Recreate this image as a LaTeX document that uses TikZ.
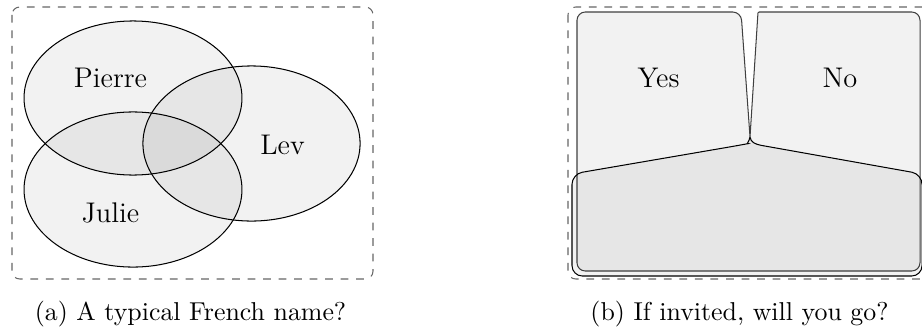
\documentclass[tikz,border=0pt]{standalone}
\usetikzlibrary{shapes.geometric}
\tikzset{
  frame/.style={draw=black!60, dashed, line width=0.4pt, rounded corners=3pt},
  venn/.style={ellipse, draw=black, line width=0.4pt, fill=black, fill opacity=0.05, inner sep=0pt},
  region/.style={draw=black, line width=0.4pt, fill=black, fill opacity=0.05},
  lbl/.style={inner sep=0pt, anchor=base, font=\fontsize{11}{13}\selectfont},
  captext/.style={inner sep=0pt, anchor=base, font=\normalsize}
}
\begin{document}
\begin{tikzpicture}[x=0.3868pt, y=-0.3868pt]
\clip (0,0) rectangle (922,327);
% ---------- (a) ----------
\draw[frame] (12,7) rectangle (373,279);
\node[venn, minimum width=84.3pt, minimum height=59.6pt] (pierre) at (133,98) {};
\node[venn, minimum width=84.3pt, minimum height=60pt] (julie) at (133,189.5) {};
\node[venn, minimum width=84pt, minimum height=60pt] (lev) at (251.5,143.5) {};
\node[lbl] (tpierre) at (110.5,87) {Pierre};
\node[lbl] (tjulie) at (110.5,222) {Julie};
\node[lbl] (tlev) at (282.5,154) {Lev};
\node[captext] (capa) at (190.5,320) {(a) A typical French name?};
% ---------- (b) ----------
\draw[frame] (568,7) rectangle (932,279);
\path[region, draw=black!75, rounded corners=3.2pt]
  (577,140) -- (577,12) -- (741,12) [rounded corners=0.4pt] -- (750,137) -- (758,12)
  [rounded corners=3.2pt] -- (920,12) -- (920,271) -- (577,271) -- cycle;
\path[region, rounded corners=4pt]
  (572,230) -- (572,174) -- (738,145.5) [sharp corners] .. controls (746,144) and (749,142) .. (750,137)
  .. controls (751,142) and (754,144) .. (762,145.5) [rounded corners=4pt] -- (922,174) -- (922,276) -- (572,276) -- cycle;
\node[lbl] (tyes) at (658.5,87) {Yes};
\node[lbl] (tno) at (840,87) {No};
\node[captext] (capb) at (739.5,320) {(b) If invited, will you go?};
\end{tikzpicture}
\end{document}
